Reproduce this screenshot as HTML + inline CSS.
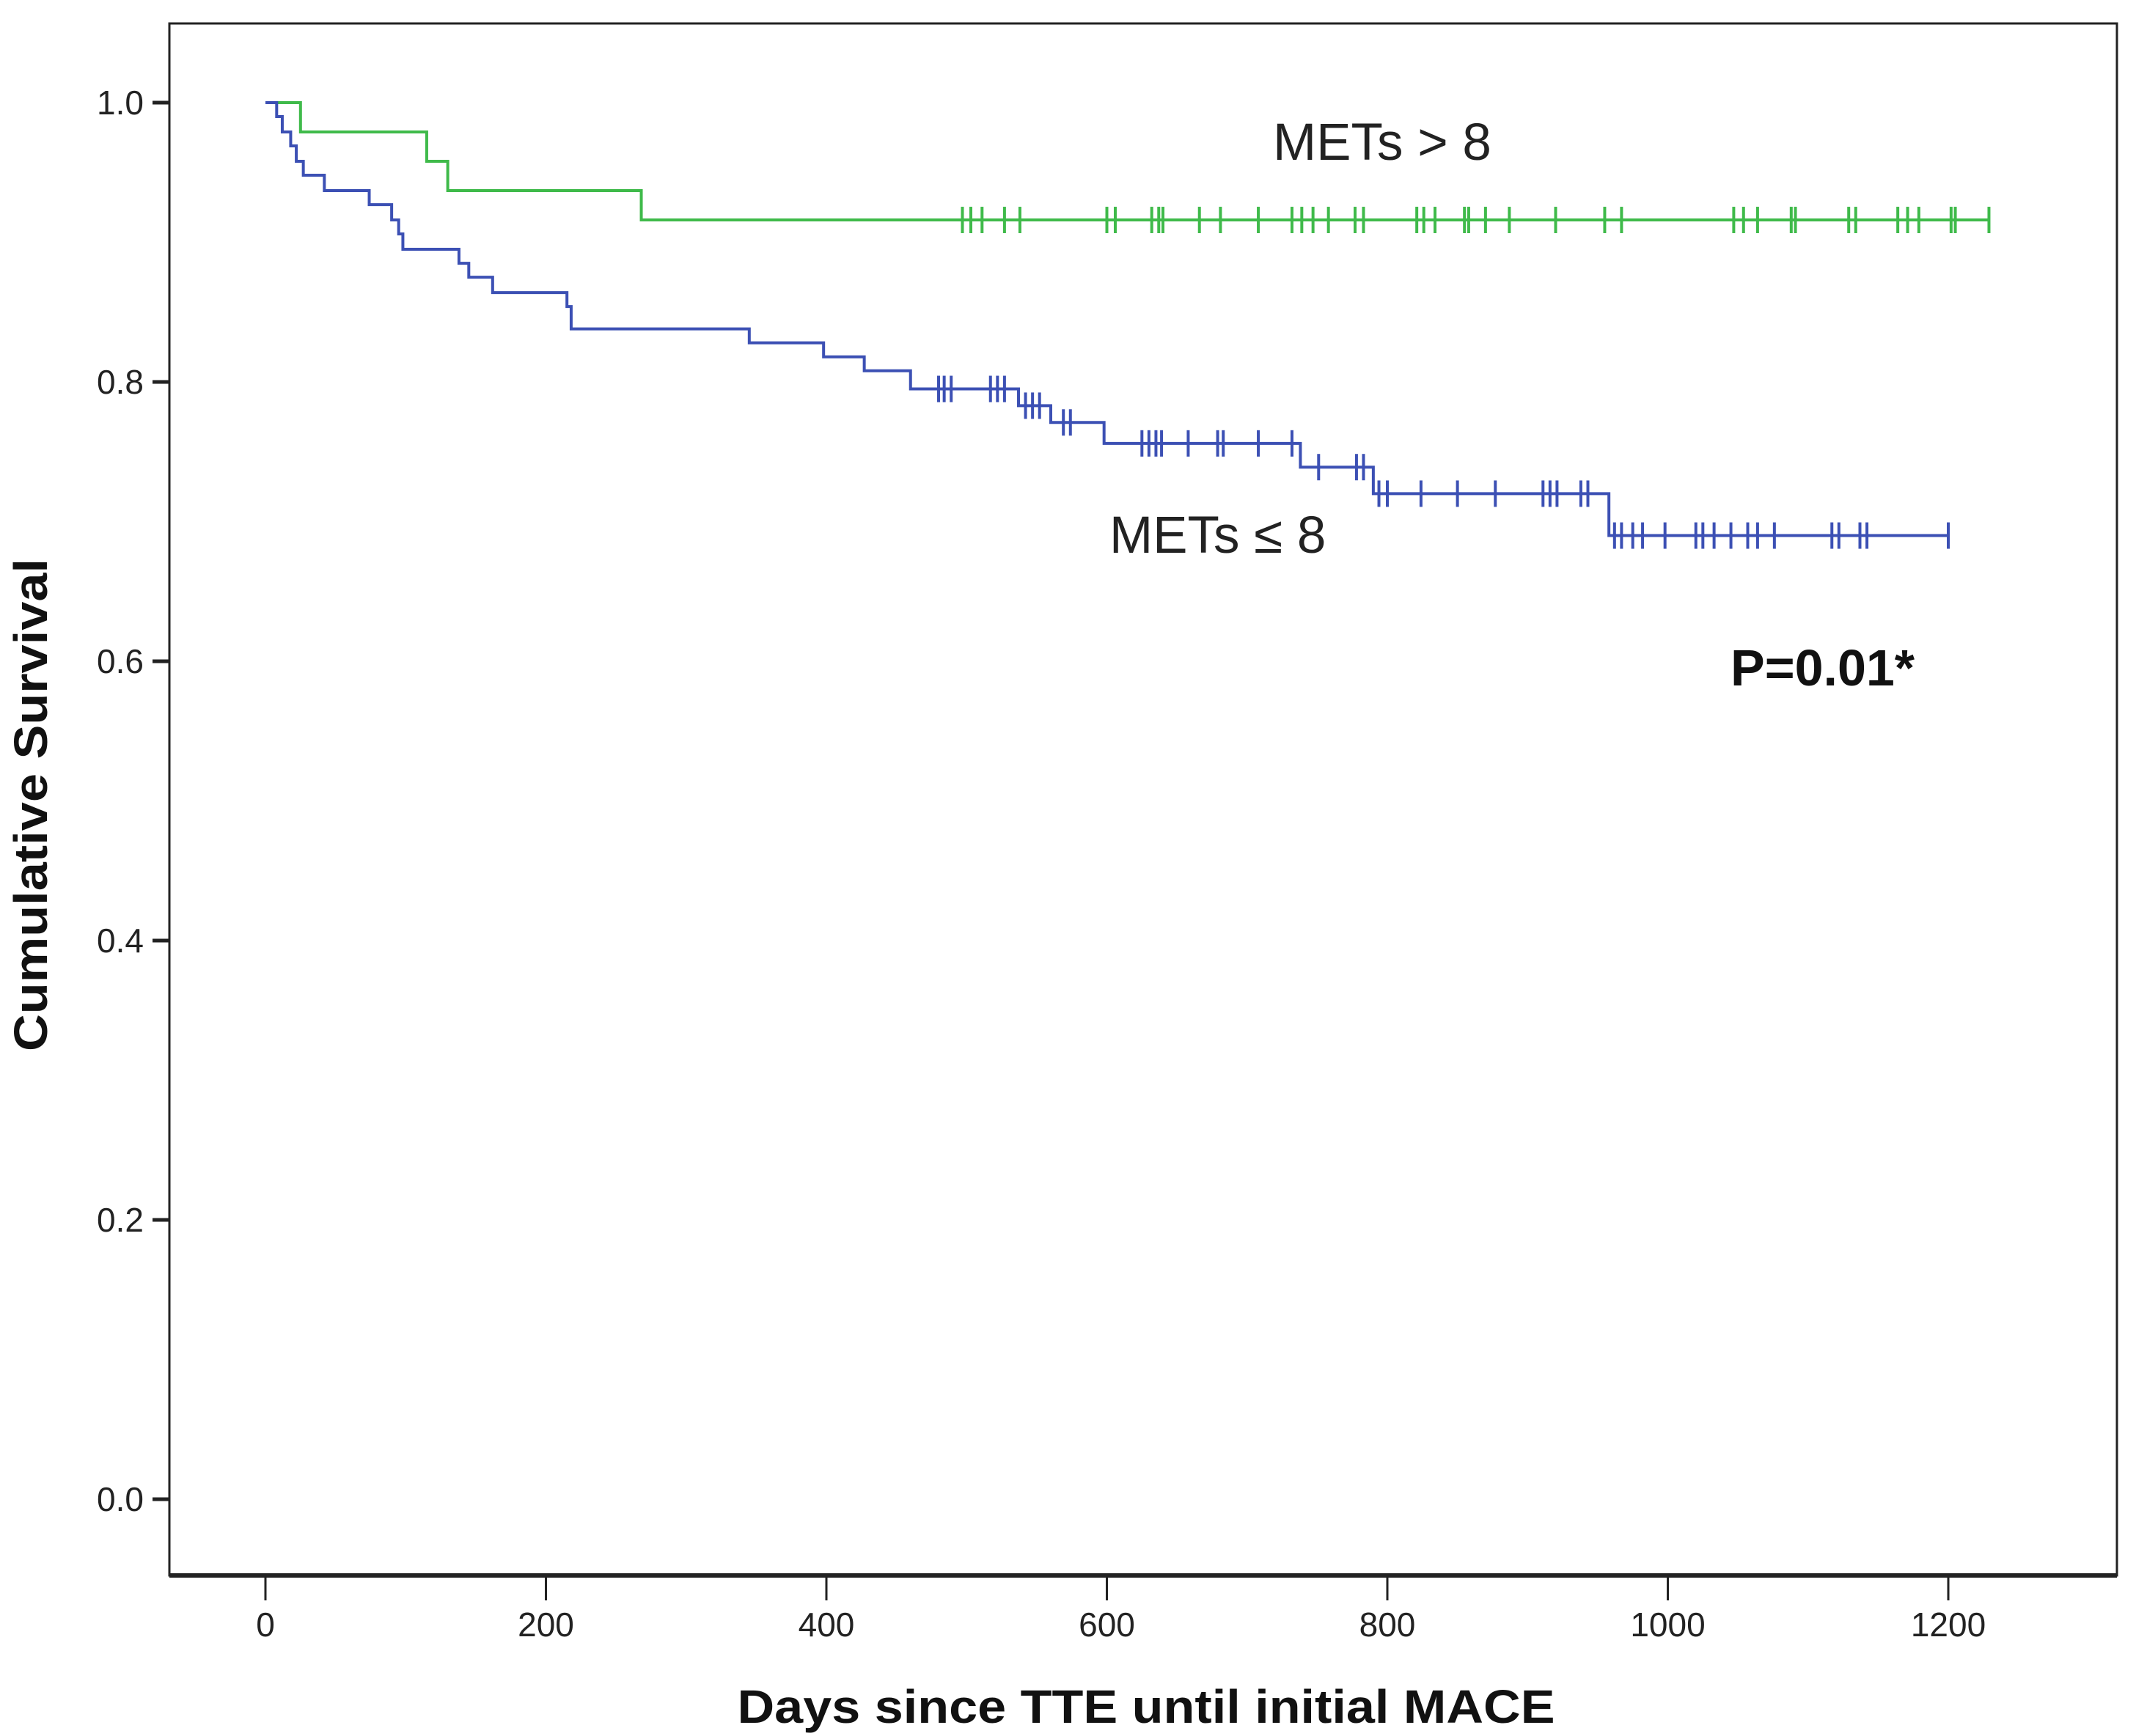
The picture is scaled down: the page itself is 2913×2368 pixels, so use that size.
<!DOCTYPE html>
<html><head><meta charset="utf-8"><style>
html,body{margin:0;padding:0;background:#fff;}
svg{display:block;font-family:"Liberation Sans",Arial,sans-serif;}
</style></head><body>
<svg id="chart" width="2913" height="2368" viewBox="0 0 2913 2368" xmlns="http://www.w3.org/2000/svg">
<rect x="0" y="0" width="2913" height="2368" fill="#fff"/>
<g id="series"></g>
<rect x="231" y="32" width="2656" height="2117" fill="none" stroke="#222" stroke-width="3"/>
<line x1="231" y1="2149" x2="2887" y2="2149" stroke="#222" stroke-width="6"/>
<g id="axes"></g>
<text transform="translate(64,1098) rotate(-90)" text-anchor="middle" font-size="64" font-weight="bold" fill="#111" textLength="672" lengthAdjust="spacingAndGlyphs">Cumulative Survival</text>
<text x="1563" y="2350" text-anchor="middle" font-size="64" font-weight="bold" fill="#111" textLength="1115" lengthAdjust="spacingAndGlyphs">Days since TTE until initial MACE</text>
<text x="1736" y="218" font-size="71" fill="#222">METs &gt; 8</text>
<text x="1513" y="754" font-size="71" fill="#222">METs ≤ 8</text>
<text x="2360" y="935" font-size="70" font-weight="bold" fill="#111">P=0.01*</text>
</svg>
<script>
const xTicks = [0,200,400,600,800,1000,1200];
const yTicks = [0,0.2,0.4,0.6,0.8,1.0];
const yTickLabels = ["0.0","0.2","0.4","0.6","0.8","1.0"];
const greenDays = [0,25,115,130,268];
const greenSurv = [1.0,0.979,0.958,0.937,0.916];
const greenEnd = 1229;
const greenCensor = [497,503,511,527,538,600,606,632,637,640,666,681,708,732,739,747,758,777,783,821,826,834,855,858,870,887,920,955,967,1047,1054,1064,1088,1091,1129,1134,1164,1171,1179,1202,1205,1229];
const blueDays = [0,8,12,18,22,27,42,74,90,95,98,138,145,162,215,218,345,398,427,460,537,560,598,738,790,958];
const blueSurv = [1.0,0.99,0.979,0.969,0.958,0.948,0.937,0.927,0.916,0.906,0.895,0.885,0.875,0.864,0.854,0.838,0.828,0.818,0.808,0.795,0.783,0.771,0.756,0.739,0.72,0.69];
const blueEnd = 1200;
const blueCensor = [480,484,489,517,522,527,542,547,552,569,574,625,630,635,639,658,679,683,708,732,751,778,783,794,800,824,850,877,911,916,921,938,943,962,967,975,982,998,1020,1025,1033,1045,1057,1064,1076,1117,1122,1137,1142,1200];

const NS="http://www.w3.org/2000/svg";
function X(d){return 362 + d*(2295/1200);}
function Y(s){return 2045 - s*1905;}
function mk(tag,attrs,parent){const e=document.createElementNS(NS,tag);for(const k in attrs)e.setAttribute(k,attrs[k]);parent.appendChild(e);return e;}
const axes=document.getElementById('axes');
const series=document.getElementById('series');
xTicks.forEach(function(t){
  const l=mk('line',{x1:X(t),y1:2149,x2:X(t),y2:2183,stroke:'#222','stroke-width':3},axes);
  
  
  const tx=mk('text',{x:X(t),y:2232,'text-anchor':'middle','font-size':46,fill:'#222'},axes);
  tx.textContent=String(t);
  
  
});
yTicks.forEach(function(t,i){
  const l=mk('line',{x1:208,y1:Y(t),x2:231,y2:Y(t),stroke:'#222','stroke-width':5},axes);
  
  
  const tx=mk('text',{x:196,y:Y(t)+16,'text-anchor':'end','font-size':46,fill:'#222'},axes);
  tx.textContent=yTickLabels[i];
  
  
});
function stepPath(days,surv,end){
  let d='M'+X(days[0])+','+Y(surv[0]);
  for(let i=1;i<days.length;i++){d+=' H'+X(days[i])+' V'+Y(surv[i]);}
  d+=' H'+X(end);return d;
}
function survAt(days,surv,t){let s=surv[0];for(let i=0;i<days.length;i++){if(days[i]<=t)s=surv[i];}return s;}
function drawSeries(days,surv,end,cens,color,name){
  const p=mk('path',{d:stepPath(days,surv,end),fill:'none',stroke:color,'stroke-width':4},series);
  
  
  cens.forEach(function(c){
    const y=Y(survAt(days,surv,c));
    const m=mk('line',{x1:X(c),y1:y-18,x2:X(c),y2:y+18,stroke:color,'stroke-width':4},series);
    
    
  });
}
drawSeries(greenDays,greenSurv,greenEnd,greenCensor,'#3fba4a','mets-gt-8');
drawSeries(blueDays,blueSurv,blueEnd,blueCensor,'#3c50b4','mets-le-8');
</script>
</body></html>
